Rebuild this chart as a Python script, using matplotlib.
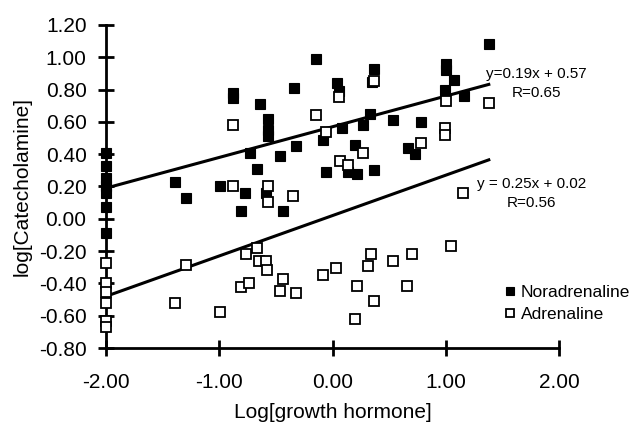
import numpy as np
import matplotlib
matplotlib.use("Agg")
from matplotlib import pyplot as plt

plt.rcParams['font.family'] = ['Liberation Sans', 'DejaVu Sans']

# noradrenaline (filled squares)
nor_x = [-2.00, -2.00, -2.00, -2.00, -2.00, -2.00, -2.00,
         -1.39, -1.29, -0.99, -0.88, -0.88, -0.77, -0.81, -0.73, -0.67,
         -0.64, -0.57, -0.57, -0.57, -0.59, -0.46, -0.44, -0.34, -0.32,
         -0.15, -0.08, -0.06, 0.04, 0.06, 0.08, 0.14, 0.20, 0.22, 0.27,
         0.33, 0.35, 0.37, 0.37, 0.53, 0.67, 0.73, 0.78, 0.99, 1.00,
         1.00, 1.07, 1.16, 1.38]
nor_y = [0.41, 0.33, 0.25, 0.20, 0.16, 0.07, -0.09,
         0.23, 0.13, 0.20, 0.78, 0.75, 0.16, 0.05, 0.41, 0.31,
         0.71, 0.62, 0.55, 0.51, 0.16, 0.39, 0.05, 0.81, 0.45,
         0.99, 0.49, 0.29, 0.84, 0.79, 0.56, 0.29, 0.46, 0.28, 0.58,
         0.65, 0.85, 0.93, 0.30, 0.61, 0.44, 0.40, 0.60, 0.80, 0.96,
         0.92, 0.86, 0.76, 1.08]

# adrenaline (open squares)
adr_x = [-2.00, -2.00, -2.00, -2.00, -2.00, -2.00,
         -1.39, -1.29, -0.99, -0.88, -0.88, -0.81, -0.74, -0.76, -0.67,
         -0.65, -0.59, -0.58, -0.57, -0.57, -0.35, -0.44, -0.46, -0.32,
         -0.15, -0.06, -0.08, 0.03, 0.06, 0.07, 0.14, 0.22, 0.195, 0.27,
         0.315, 0.34, 0.365, 0.37, 0.53, 0.66, 0.70, 0.78, 0.99, 0.99,
         1.00, 1.05, 1.15, 1.38]
adr_y = [-0.275, -0.40, -0.455, -0.52, -0.635, -0.67,
         -0.52, -0.285, -0.58, 0.58, 0.20, -0.42, -0.40, -0.22, -0.18,
         -0.26, -0.26, -0.315, 0.20, 0.105, 0.14, -0.37, -0.445, -0.46,
         0.64, 0.54, -0.35, -0.305, 0.755, 0.36, 0.335, -0.415, -0.62, 0.41,
         -0.29, -0.22, -0.51, 0.855, -0.26, -0.415, -0.215, 0.47, 0.56, 0.52,
         0.73, -0.17, 0.16, 0.72]

# regression lines (slope, intercept) as printed on the chart
nor_fit = (0.19, 0.57)
adr_fit = (0.25, 0.02)
fit_x = [-2.00, 1.38]

xticks = [-2, -1, 0, 1, 2]
yticks = [-0.8, -0.6, -0.4, -0.2, 0.0, 0.2, 0.4, 0.6, 0.8, 1.0, 1.2]

fig = plt.figure(figsize=(6.35, 4.28), dpi=100)
ax = fig.add_axes([106/635, 1-348/428, (559-106)/635, (348-25)/428])

fx = np.array(fit_x)
ax.plot(fx, nor_fit[0]*fx + nor_fit[1], color='black', lw=2.2, zorder=1)
ax.plot(fx, adr_fit[0]*fx + adr_fit[1], color='black', lw=2.2, zorder=1)

ax.plot(nor_x, nor_y, 's', ms=6.7, mfc='black', mec='black', mew=0.8,
        ls='none', label='Noradrenaline', zorder=3, clip_on=False)
ax.plot(adr_x, adr_y, 's', ms=6.7, mfc='white', mec='black', mew=1.3,
        ls='none', label='Adrenaline', zorder=3, clip_on=False)

ax.set_xlim(-2, 2)
ax.set_ylim(-0.8, 1.2)
ax.set_xticks(xticks)
ax.set_yticks(yticks)
ax.set_xticklabels(['%.2f' % t for t in xticks])
ax.set_yticklabels(['%.2f' % t for t in yticks])
ax.tick_params(direction='inout', length=12, width=2, labelsize=15)
ax.tick_params(axis='x', pad=12)
ax.tick_params(axis='y', pad=8)
for s in ['top', 'right']:
    ax.spines[s].set_visible(False)
for s in ['left', 'bottom']:
    ax.spines[s].set_linewidth(2)

ax.set_xlabel('Log[growth hormone]', fontsize=15, labelpad=8)
ax.set_ylabel('log[Catecholamine]', fontsize=15, labelpad=5)

ax.text(1.80, 0.897, 'y=0.19x + 0.57', fontsize=11, ha='center', va='center', clip_on=False)
ax.text(1.80, 0.779, 'R=0.65', fontsize=11, ha='center', va='center', clip_on=False)
ax.text(1.76, 0.215, 'y = 0.25x + 0.02', fontsize=11, ha='center', va='center', clip_on=False)
ax.text(1.76, 0.098, 'R=0.56', fontsize=11, ha='center', va='center', clip_on=False)

fig.legend(loc='upper left', bbox_to_anchor=(505/635, 1-285/428), frameon=False,
           fontsize=12.5, handlelength=0.6, handletextpad=0.3, markerscale=0.9,
           labelspacing=0.4, borderpad=0, borderaxespad=0)

fig.savefig('out.png', dpi=100)
